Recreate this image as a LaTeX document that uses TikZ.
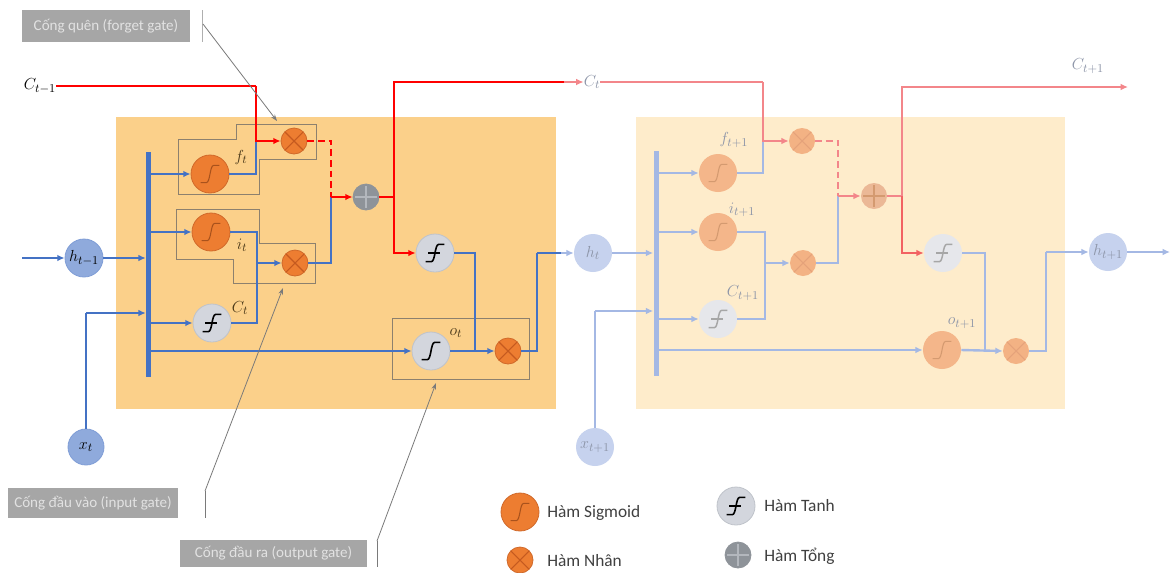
\documentclass[tikz,border=0pt]{standalone}
\usepackage{fontspec}
\setmainfont{Carlito}
\usetikzlibrary{arrows.meta,calc}
\definecolor{bgL}{HTML}{FBD08A}
\definecolor{bgR}{HTML}{FEECCB}
\definecolor{blueL}{HTML}{4472C4}
\definecolor{redL}{HTML}{FF0000}
\definecolor{blueP}{HTML}{A4B8E4}
\definecolor{redP}{HTML}{F3868A}
\definecolor{redP2}{HTML}{F26262}
\definecolor{sigfill}{HTML}{ED7D31}
\definecolor{sigdraw}{HTML}{D0692A}
\definecolor{sigglyph}{HTML}{A9521C}
\definecolor{multX}{HTML}{C55A1F}
\definecolor{tanhfill}{HTML}{D3D6DD}
\definecolor{tanhdraw}{HTML}{BFC3CA}
\definecolor{sumfill}{HTML}{8E9399}
\definecolor{sumplus}{HTML}{B3B7BD}
\definecolor{hfill}{HTML}{8FAADC}
\definecolor{hdraw}{HTML}{7F9DD6}
\definecolor{hPfill}{HTML}{C6D2EE}
\definecolor{txtP}{HTML}{8D95A8}
\definecolor{txtC}{HTML}{4A3818}
\definecolor{sigPfill}{HTML}{F4B68A}
\definecolor{sigPglyph}{HTML}{D49A70}
\definecolor{multPfill}{HTML}{F3B284}
\definecolor{multPX}{HTML}{E5A27A}
\definecolor{tanhPfill}{HTML}{E6E7EB}
\definecolor{sumPfill}{HTML}{EBB896}
\definecolor{gateline}{HTML}{8C806E}
\definecolor{gatebox}{HTML}{A6A6A6}
\definecolor{gatetxt}{HTML}{E2E2E2}
\definecolor{annot}{HTML}{7A7A7A}
\definecolor{legtxt}{HTML}{404040}
\newcommand{\sgshape}[1]{\draw[#1] (-7pt,-6.5pt) -- (-2.8pt,-6.5pt) .. controls (0.3pt,-6.5pt) and (-0.3pt,6.5pt) .. (2.8pt,6.5pt) -- (7pt,6.5pt);}
\newcommand{\thshape}[1]{\draw[#1] (-7pt,-6.5pt) -- (-2.8pt,-6.5pt) .. controls (0.3pt,-6.5pt) and (-0.3pt,6.5pt) .. (2.8pt,6.5pt) -- (7pt,6.5pt); \draw[#1] (-5pt,0pt) -- (4pt,0pt);}
\newcommand{\xshape}[1]{\draw[#1] (-8pt,-8pt) -- (8pt,8pt); \draw[#1] (-8pt,8pt) -- (8pt,-8pt);}
\newcommand{\pshape}[1]{\draw[#1] (-8pt,0pt) -- (8pt,0pt); \draw[#1] (0pt,-8pt) -- (0pt,8pt);}
\tikzset{
  base/.style={circle, inner sep=0pt},
  sigN/.style={base, minimum size=28.5pt, fill=sigfill, draw=sigdraw, line width=0.6pt,
    path picture={\begin{scope}[shift={(path picture bounding box.center)}]\sgshape{draw=sigglyph,line width=0.8pt}\end{scope}}},
  gsigN/.style={base, minimum size=28.5pt, fill=tanhfill, draw=tanhdraw, line width=0.6pt,
    path picture={\begin{scope}[shift={(path picture bounding box.center)}]\sgshape{draw=black,line width=1.2pt}\end{scope}}},
  tanhN/.style={base, minimum size=28.5pt, fill=tanhfill, draw=tanhdraw, line width=0.6pt,
    path picture={\begin{scope}[shift={(path picture bounding box.center)}]\thshape{draw=black,line width=1.2pt}\end{scope}}},
  multN/.style={base, minimum size=19.5pt, fill=sigfill, draw=sigdraw, line width=0.6pt,
    path picture={\begin{scope}[shift={(path picture bounding box.center)}]\xshape{draw=multX,line width=0.8pt}\end{scope}}},
  sumN/.style={base, minimum size=19.5pt, fill=sumfill, draw=sumfill, line width=0.6pt,
    path picture={\begin{scope}[shift={(path picture bounding box.center)}]\pshape{draw=sumplus,line width=0.8pt}\end{scope}}},
  hN/.style={base, minimum size=28.5pt, fill=hfill, draw=hdraw, line width=0.6pt, font=\fontsize{13}{15}\selectfont},
  hP/.style={base, minimum size=28.5pt, fill=hPfill, text=txtP, font=\fontsize{12.5}{15}\selectfont},
  sigP/.style={base, minimum size=28.5pt, fill=sigPfill,
    path picture={\begin{scope}[shift={(path picture bounding box.center)}]\sgshape{draw=sigPglyph,line width=0.8pt}\end{scope}}},
  tanhP/.style={base, minimum size=28.5pt, fill=tanhPfill,
    path picture={\begin{scope}[shift={(path picture bounding box.center)}]\thshape{draw=black!35,line width=1.1pt}\end{scope}}},
  multP/.style={base, minimum size=19.5pt, fill=multPfill,
    path picture={\begin{scope}[shift={(path picture bounding box.center)}]\xshape{draw=multPX,line width=0.8pt}\end{scope}}},
  sumP/.style={base, minimum size=19.5pt, fill=sumPfill,
    path picture={\begin{scope}[shift={(path picture bounding box.center)}]\pshape{draw=sigPglyph,line width=0.8pt}\end{scope}}},
  barN/.style={rectangle, inner sep=0pt, minimum width=3.75pt, fill=blueL},
  barP/.style={rectangle, inner sep=0pt, minimum width=3.75pt, fill=blueP},
  lbl/.style={inner sep=0pt, font=\fontsize{13}{15}\selectfont},
  lblC/.style={inner sep=0pt, text=txtC, font=\fontsize{13}{15}\selectfont},
  lblP/.style={inner sep=0pt, text=txtP, font=\fontsize{12.5}{15}\selectfont},
  blueW/.style={draw=blueL, line width=1.8pt},
  redW/.style={draw=redL, line width=1.9pt},
  bluePW/.style={draw=blueP, line width=1.8pt},
  redPW/.style={draw=redP, line width=1.9pt},
  arr/.style={-{Latex[length=5.5pt,width=5pt]}},
  gateln/.style={draw=gateline, line width=0.7pt},
  gatebx/.style={rectangle, fill=gatebox, text=gatetxt, inner sep=0pt, font=\fontsize{11.3}{13}\selectfont},
  annotL/.style={draw=annot, line width=0.6pt},
  annotA/.style={draw=annot, line width=0.6pt, -{Stealth[length=5pt,width=3.5pt]}},
  legT/.style={anchor=west, text=legtxt, inner sep=0pt, font=\fontsize{13}{15}\selectfont},
}
\begin{document}
\begin{tikzpicture}[x=0.75pt,y=-0.75pt]
\useasboundingbox (0,0) rectangle (1173,572);
\fill[white] (0,0) rectangle (1173,572);
% cell backgrounds
\fill[bgL] (116,117) rectangle (556,409);
\fill[bgR] (636,117) rectangle (1065,409);
% gate outlines
\draw[gateln] (178,139) -- (236,139) -- (236,124) -- (316,124) -- (316,159) -- (259,159) -- (259,194) -- (178,194) -- cycle;
\draw[gateln] (176,209) -- (259,209) -- (259,243) -- (315,243) -- (315,283) -- (233,283) -- (233,259) -- (176,259) -- cycle;
\draw[gateln] (392,318) rectangle (529,379);

% ---------- left cell nodes
\node[lbl] (Cm1) at (40,86) {$C_{t-1}$};
\node[hN] (hm1) at (84,258) {$h_{t-1}$};
\node[hN, minimum size=27pt] (xt) at (86,447) {$x_t$};
\node[barN, minimum height=168.75pt] (bar) at (148.5,264.5) {};
\node[sigN] (fs) at (210,174) {};
\node[lblC] (flab) at (241,157) {$f_t$};
\node[multN] (fm) at (294,141) {};
\node[sigN] (is) at (211,232) {};
\node[lblC] (ilab) at (242,245) {$i_t$};
\node[multN] (im) at (295,263) {};
\node[tanhN] (ct) at (212,323) {};
\node[lblC] (clab) at (240,308) {$C_t$};
\node[sumN] (sum) at (366,197) {};
\node[tanhN] (th) at (435,253) {};
\node[gsigN] (os) at (431,351) {};
\node[lblC] (olab) at (456,333) {$o_t$};
\node[multN] (om) at (508,351) {};
\node[hP] (ht) at (593,253) {$h_t$};
\node[lblP] (Ct) at (592,82) {$C_t$};

% ---------- left cell connectors
\coordinate (a1) at (256,86);
\draw[blueW] (fs.east) -| (a1 |- fm);
\draw[redW] (Cm1.east) -- (a1);
\draw[redW,arr] (a1) |- (fm.west);
\draw[blueW,arr] (bar.east |- fs) -- (fs.west);
\coordinate (a2) at (331,197);
\draw[blueW] (im.east) -| (a2);
\draw[redW,dash pattern=on 5pt off 3pt] (fm.east) -| (a2);
\draw[redW,arr] (a2) -- (sum.west);
\coordinate (a3) at (257,263);
\draw[blueW,arr] (bar.east |- is) -- (is.west);
\draw[blueW] (is.east) -| (a3);
\draw[blueW] (ct.east) -| (a3);
\draw[blueW,arr] (a3) -- (im.west);
\draw[blueW,arr] (bar.east |- ct) -- (ct.west);
\coordinate (hin) at (22,258);
\draw[blueW,arr] (hin) -- (hm1.west);
\draw[blueW,arr] (hm1.east) -- (bar.west |- hm1);
\coordinate (xb) at (86,313);
\draw[blueW] (xt.north) -- (xb);
\draw[blueW,arr] (xb) -- (bar.west |- xb);
\draw[blueW,arr] (bar.east |- os) -- (os.west);
\coordinate (a4) at (394,197);
\coordinate (a5) at (564,82);
\draw[redW] (sum.east) -- (a4);
\draw[redW] (a4) |- (a5);
\draw[redPW,arr] (a5) -- (Ct.west);
\draw[redW,arr] (a4) |- (th.west);
\coordinate (a6) at (475,351);
\draw[blueW] (th.east) -| (a6);
\draw[blueW,arr] (os.east) -- (om.west);
\coordinate (a7) at (537,253);
\coordinate (a8) at (561,253);
\draw[blueW] (om.east) -| (a7);
\draw[blueW] (a7) -- (a8);
\draw[bluePW,arr] (a8) -- (ht.west);

% ---------- right cell nodes
\node[barP, minimum height=168.75pt] (bar2) at (656,263) {};
\node[sigP] (fs2) at (718,173) {};
\node[lblP] (flab2) at (734,140) {$f_{t+1}$};
\node[multP] (fm2) at (802,141) {};
\node[sigP] (is2) at (718,232) {};
\node[lblP] (ilab2) at (742,210) {$i_{t+1}$};
\node[multP] (im2) at (803,263) {};
\node[tanhP] (ct2) at (718,319) {};
\node[lblP] (clab2) at (743,293) {$C_{t+1}$};
\node[sumP] (sum2) at (874,196) {};
\node[tanhP] (th2) at (943,253) {};
\node[sigP] (os2) at (942,350) {};
\node[lblP] (olab2) at (962,323) {$o_{t+1}$};
\node[multP] (om2) at (1016,351) {};
\node[hP] (ht1) at (1108,252) {$h_{t+1}$};
\node[hP] (xt1) at (595,447) {$x_{t+1}$};
\node[lblP] (Ct1) at (1088,66) {$C_{t+1}$};

% ---------- right cell connectors
\coordinate (b1) at (763,82);
\draw[bluePW] (fs2.east) -| (b1 |- fm2);
\draw[redPW] (Ct.east) -- (b1);
\draw[redPW,arr] (b1) |- (fm2.west);
\draw[bluePW,arr] (bar2.east |- fs2) -- (fs2.west);
\coordinate (b2) at (838,196);
\draw[bluePW] (im2.east) -| (b2);
\draw[redPW,dash pattern=on 5pt off 3pt] (fm2.east) -| (b2);
\draw[redPW,arr] (b2) -- (sum2.west);
\coordinate (b3) at (765,263);
\draw[bluePW,arr] (bar2.east |- is2) -- (is2.west);
\draw[bluePW] (is2.east) -| (b3);
\draw[bluePW] (ct2.east) -| (b3);
\draw[bluePW,arr] (b3) -- (im2.west);
\draw[bluePW,arr] (bar2.east |- ct2) -- (ct2.west);
\draw[bluePW,arr] (ht.east) -- (bar2.west |- ht);
\coordinate (xb2) at (595,311);
\draw[bluePW] (xt1.north) -- (xb2);
\draw[bluePW,arr] (xb2) -- (bar2.west |- xb2);
\draw[bluePW,arr] (bar2.east |- os2) -- (os2.west);
\coordinate (b4) at (902,196);
\coordinate (b5) at (1128,87);
\draw[redPW] (sum2.east) -- (b4);
\draw[redPW,arr] (b4) |- (b5);
\draw[redPW,draw=redP2,arr] (b4) |- (th2.west);
\coordinate (b6) at (985,351);
\draw[bluePW] (th2.east) -| (b6);
\draw[bluePW,arr] (os2.east) -- (om2.west);
\coordinate (b7) at (1046,252);
\draw[bluePW] (om2.east) -| (b7);
\draw[bluePW,arr] (b7) -- (ht1.west);
\coordinate (hout) at (1170,252);
\draw[bluePW,arr] (ht1.east) -- (hout);

% ---------- gate annotations
\node[gatebx, minimum width=126pt, minimum height=24pt] (gF) at (106,26) {Cống quên (forget gate)};
\coordinate (fT) at (202,10); \coordinate (fB) at (202,42);
\draw[annotL, draw=annot!60] (fT) -- (fB);
\coordinate (fS) at (203,24); \coordinate (fE) at (277,121);
\draw[annotA] (fS) -- (fE);
\node[gatebx, minimum width=127.5pt, minimum height=22.5pt] (gI) at (93,503) {Cống đầu vào (input gate)};
\coordinate (iT) at (205,491); \coordinate (iB) at (205,518);
\draw[annotL] (iT) -- (iB);
\coordinate (iE) at (283,288);
\draw[annotA] (iT) -- (iE);
\node[gatebx, minimum width=140pt, minimum height=20.5pt] (gO) at (273.5,553.5) {Cống đầu ra (output gate)};
\coordinate (oT) at (377,541); \coordinate (oB) at (377,567);
\draw[annotL] (oT) -- (oB);
\coordinate (oE) at (436,383);
\draw[annotA] (oT) -- (oE);

% ---------- legend
\node[sigN] (lg1) at (520,512) {};
\node[legT] (lt1) at (547,513) {Hàm Sigmoid};
\node[multN] (lg2) at (520,560) {};
\node[legT] (lt2) at (547,561) {Hàm Nhân};
\node[tanhN] (lg3) at (736,506) {};
\node[legT] (lt3) at (764,506) {Hàm Tanh};
\node[sumN] (lg4) at (738,555) {};
\node[legT] (lt4) at (764,556) {Hàm Tổng};
\end{tikzpicture}
\end{document}
